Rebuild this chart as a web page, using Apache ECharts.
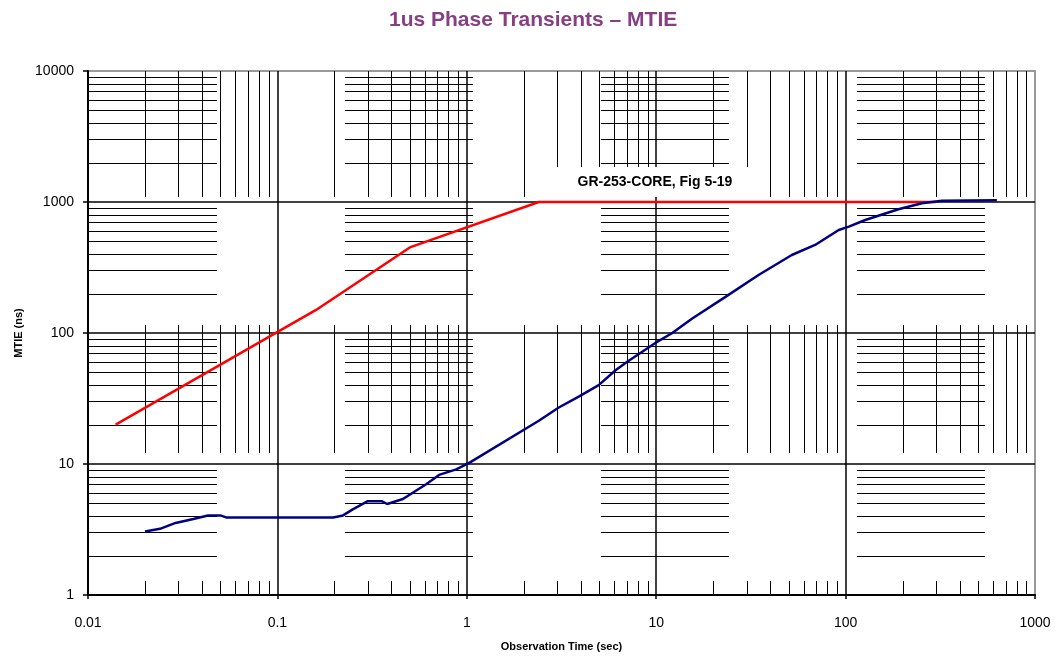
<!DOCTYPE html>
<html>
<head>
<meta charset="utf-8">
<script src="https://cdn.jsdelivr.net/npm/echarts@6/dist/echarts.min.js"></script>
<style>
  html, body { margin: 0; padding: 0; background: #fff; }
  #chart { width: 1057px; height: 656px; }
</style>
</head>
<body>
<div id="chart"></div>
<script>
// ---------- data ----------
const xTickLabels = ['0.01', '0.1', '1', '10', '100', '1000'];
const yTickLabels = ['1', '10', '100', '1000', '10000'];

// GR-253-CORE, Fig 5-19 mask (red)
const maskTime = [0.014, 0.16, 0.5, 2.4, 300];
const maskMtie = [20, 150, 450, 1000, 1000];

// measured MTIE (blue)
const measTime = [0.02, 0.024, 0.029, 0.036, 0.043, 0.05, 0.054, 0.197, 0.222, 0.25, 0.3, 0.355, 0.38, 0.46, 0.61, 0.72, 0.88, 1.04,
  2.4, 3.06, 3.9, 4.97, 6.1, 7.0, 9.9, 12.1, 15.5, 23, 34.7, 52, 69, 92, 104, 127, 190, 253, 322, 629];
const measMtie = [3.05, 3.2, 3.55, 3.8, 4.05, 4.05, 3.9, 3.9, 4.05, 4.5, 5.2, 5.2, 4.95, 5.4, 7.0, 8.3, 9.1, 10.3,
  21.4, 27, 32.7, 40, 52, 60, 84, 99.5, 129, 187, 277, 394, 470, 611, 648, 729, 880, 978, 1023, 1030];

const titleText = '1us Phase Transients \u2013 MTIE';
const annotationText = 'GR-253-CORE, Fig 5-19';
const xName = 'Observation Time (sec)';
const yName = 'MTIE (ns)';

// ---------- layout (pixels) ----------
const GRID = { left: 88, right: 22, top: 71, bottom: 61 };
const BAND_PERIOD = 256, BAND_LEN = 128;
const H_BAND_START = 89;   // horizontal minor grid segments start (x)
const V_BAND_START = 69;   // vertical minor grid segments start (y)

// minor grid values (2..9 x decade)
function minorValues(minExp, maxExp) {
  const out = [];
  for (let e = minExp; e < maxExp; e++) {
    for (let m = 2; m <= 9; m++) out.push(+(m * Math.pow(10, e)).toPrecision(6));
  }
  return out;
}
const xMinor = minorValues(-2, 3);
const yMinor = minorValues(0, 4);

function bands(start, lo, hi) {
  const res = [];
  let s = start;
  while (s - BAND_PERIOD + BAND_LEN > lo) s -= BAND_PERIOD;
  for (; s < hi; s += BAND_PERIOD) {
    const a = Math.max(s, lo), b = Math.min(s + BAND_LEN, hi);
    if (b > a) res.push([a, b]);
  }
  return res;
}

function renderHMinor(params, api) {
  const cs = params.coordSys;
  const y = Math.round(api.coord([1, api.value(1)])[1]) + 0.5;
  const children = bands(H_BAND_START, cs.x, cs.x + cs.width).map(([a, b]) => ({
    type: 'line', shape: { x1: a, y1: y, x2: b, y2: y },
    style: { stroke: '#000', lineWidth: 1 }
  }));
  return { type: 'group', children };
}
function renderVMinor(params, api) {
  const cs = params.coordSys;
  const x = Math.round(api.coord([api.value(0), 1])[0]) + 0.5;
  const children = bands(V_BAND_START, cs.y, cs.y + cs.height).map(([a, b]) => ({
    type: 'line', shape: { x1: x, y1: a, x2: x, y2: b },
    style: { stroke: '#000', lineWidth: 1 }
  }));
  return { type: 'group', children };
}

const FONT = '"Liberation Sans", Arial, sans-serif';

const chart = echarts.init(document.getElementById('chart'), null, { renderer: 'canvas' });
chart.setOption({
  animation: false,
  backgroundColor: '#fff',
  title: {
    text: titleText,
    left: 389, top: 10, padding: 0,
    textStyle: { color: '#873F84', fontSize: 21, fontWeight: 'bold', fontFamily: FONT }
  },
  grid: {
    left: GRID.left, right: GRID.right, top: GRID.top, bottom: GRID.bottom,
    containLabel: false, outerBoundsMode: 'none',
    show: true, borderColor: '#999', borderWidth: 2, backgroundColor: 'transparent'
  },
  xAxis: {
    type: 'log', logBase: 10, min: 0.01, max: 1000,
    name: xName, nameLocation: 'middle', nameGap: 46,
    nameTextStyle: { fontSize: 11, fontWeight: 'bold', color: '#000', fontFamily: FONT },
    axisLine: { show: true, onZero: false, lineStyle: { color: '#000', width: 2 } },
    axisTick: { show: true, inside: false, length: 4, lineStyle: { color: '#000', width: 1.5 } },
    axisLabel: {
      margin: 21, fontSize: 14, color: '#000', fontFamily: FONT,
      formatter: v => xTickLabels[Math.round(Math.log10(v)) + 2]
    },
    splitLine: { show: true, showMaxLine: false, lineStyle: { color: '#000', width: 1.5 } },
    minorTick: { show: false }, minorSplitLine: { show: false }
  },
  yAxis: {
    type: 'log', logBase: 10, min: 1, max: 10000,
    name: yName, nameLocation: 'middle', nameGap: 64, nameRotate: 90,
    nameTextStyle: { fontSize: 11, fontWeight: 'bold', color: '#000', fontFamily: FONT },
    axisLine: { show: true, onZero: false, lineStyle: { color: '#000', width: 2 } },
    axisTick: { show: true, inside: false, length: 5, lineStyle: { color: '#000', width: 1.5 } },
    axisLabel: {
      margin: 14, fontSize: 14, color: '#000', fontFamily: FONT,
      formatter: v => yTickLabels[Math.round(Math.log10(v))]
    },
    splitLine: { show: true, showMaxLine: false, lineStyle: { color: '#000', width: 1.5 } },
    minorTick: { show: false }, minorSplitLine: { show: false }
  },
  graphic: [{
    type: 'text', z: 100,
    x: 655, y: 182,
    style: {
      text: annotationText, align: 'center', verticalAlign: 'middle',
      font: 'bold 14px ' + FONT, fill: '#000',
      backgroundColor: '#fff', padding: [8, 28]
    }
  }],
  series: [
    {
      type: 'custom', name: 'hMinor', z: 1, silent: true, clip: false,
      data: yMinor.map(v => [1, v]),
      renderItem: renderHMinor
    },
    {
      type: 'custom', name: 'vMinor', z: 1, silent: true, clip: false,
      data: xMinor.map(v => [v, 1]),
      renderItem: renderVMinor
    },
    {
      type: 'line', name: 'GR-253-CORE mask', z: 5,
      data: maskTime.map((t, i) => [t, maskMtie[i]]),
      showSymbol: false, symbol: 'none',
      lineStyle: { color: '#FF0000', width: 2.5 }
    },
    {
      type: 'line', name: 'MTIE', z: 6,
      data: measTime.map((t, i) => [t, measMtie[i]]),
      showSymbol: false, symbol: 'none',
      lineStyle: { color: '#000080', width: 2.5 }
    }
  ]
});
</script>
</body>
</html>
